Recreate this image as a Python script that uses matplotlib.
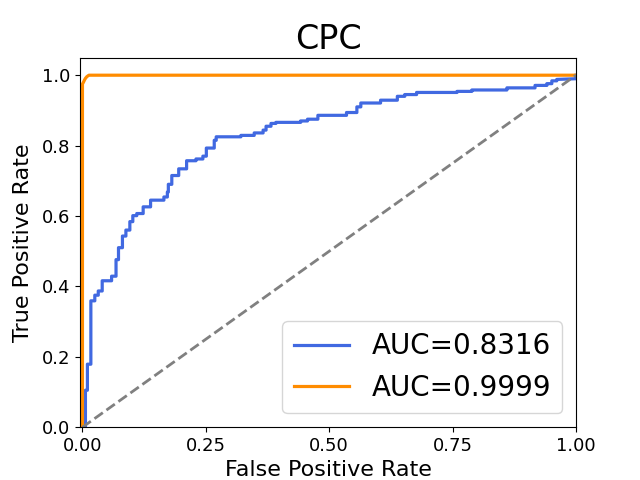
import matplotlib
matplotlib.use("Agg")
import matplotlib.pyplot as plt

# ROC corner points
fpr_a = [0.0, 0.006, 0.006, 0.010, 0.010, 0.017, 0.017, 0.025, 0.025, 0.032, 0.032,
         0.040, 0.040, 0.059, 0.059, 0.068, 0.068, 0.073, 0.073, 0.081, 0.081,
         0.088, 0.088, 0.096, 0.096, 0.102, 0.102, 0.110, 0.110, 0.123, 0.123,
         0.138, 0.138, 0.165, 0.165, 0.172, 0.172, 0.174, 0.174, 0.181, 0.181,
         0.195, 0.195, 0.211, 0.211, 0.230, 0.230, 0.244, 0.244, 0.251, 0.251,
         0.267, 0.267, 0.271, 0.271, 0.321, 0.321, 0.348, 0.348, 0.366, 0.366,
         0.372, 0.372, 0.382, 0.382, 0.392, 0.392, 0.442, 0.442, 0.456, 0.456,
         0.477, 0.477, 0.535, 0.535, 0.556, 0.556, 0.564, 0.564, 0.604, 0.604,
         0.638, 0.638, 0.653, 0.653, 0.677, 0.677, 0.759, 0.759, 0.789, 0.789,
         0.860, 0.860, 0.917, 0.917, 0.941, 0.941, 0.951, 0.951, 0.961, 0.961,
         1.0, 1.0]
tpr_a = [0.0, 0.0, 0.105, 0.105, 0.179, 0.179, 0.359, 0.359, 0.375, 0.375, 0.387,
         0.387, 0.416, 0.416, 0.429, 0.429, 0.476, 0.476, 0.510, 0.510, 0.543,
         0.543, 0.560, 0.560, 0.584, 0.584, 0.601, 0.601, 0.607, 0.607, 0.626,
         0.626, 0.645, 0.645, 0.654, 0.654, 0.668, 0.668, 0.690, 0.690, 0.715,
         0.715, 0.734, 0.734, 0.757, 0.757, 0.762, 0.762, 0.770, 0.770, 0.793,
         0.793, 0.815, 0.815, 0.825, 0.825, 0.829, 0.829, 0.836, 0.836, 0.844,
         0.844, 0.855, 0.855, 0.863, 0.863, 0.866, 0.866, 0.870, 0.870, 0.875,
         0.875, 0.886, 0.886, 0.894, 0.894, 0.910, 0.910, 0.921, 0.921, 0.929,
         0.929, 0.940, 0.940, 0.945, 0.945, 0.951, 0.951, 0.954, 0.954, 0.958,
         0.958, 0.964, 0.964, 0.971, 0.971, 0.976, 0.976, 0.984, 0.984, 0.988,
         0.990, 1.0]

fpr_b = [0.0, 0.0, 0.002, 0.004, 0.006, 0.009, 0.013, 1.0]
tpr_b = [0.0, 0.975, 0.980, 0.986, 0.991, 0.996, 1.0, 1.0]

labels = ["AUC=0.8316", "AUC=0.9999"]

fig, ax = plt.subplots(figsize=(6.4, 4.8), dpi=100)
ax.plot(fpr_a, tpr_a, color="royalblue", lw=2.3, label=labels[0])
ax.plot(fpr_b, tpr_b, color="darkorange", lw=2.3, label=labels[1])
ax.plot([0, 1], [0, 1], color="gray", lw=2, linestyle="--")

ax.set_xlim(-0.005, 1.0)
ax.set_ylim(0.0, 1.05)
ax.set_xticks([0.0, 0.25, 0.5, 0.75, 1.0])
ax.tick_params(labelsize=13)
ax.set_xlabel("False Positive Rate", fontsize=16)
ax.set_ylabel("True Positive Rate", fontsize=16, labelpad=6)
ax.set_title("CPC", fontsize=24)
ax.legend(loc="lower right", fontsize=20)

plt.savefig("out.png")
